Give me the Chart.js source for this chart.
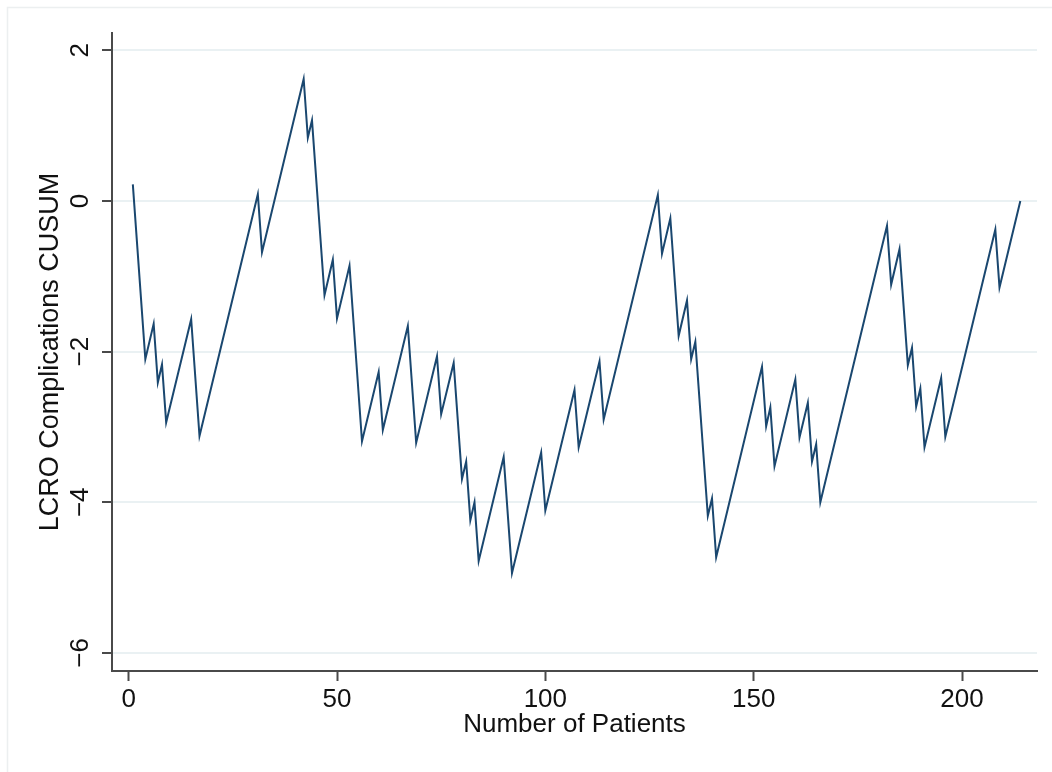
<!DOCTYPE html>
<html>
<head>
<meta charset="utf-8">
<script src="https://cdn.jsdelivr.net/npm/chart.js@4.4.1/dist/chart.umd.min.js"></script>
<style>
  body { margin: 0; background: #fff; }
  canvas { display: block; }
</style>
</head>
<body>
<canvas id="cusumChart" width="1052" height="772"></canvas>
<script>
// turning points of the CUSUM curve (patient number, cusum value)
const patients = [1, 4, 6, 7, 8, 9, 15, 17, 31, 32, 42, 43, 44, 47, 49, 50,
  53, 56, 60, 61, 67, 69, 74, 75, 78, 80, 81, 82, 83, 84, 90, 92,
  99, 100, 107, 108, 113, 114, 127, 128, 130, 132, 134, 135, 136, 139, 140, 141,
  152, 153, 154, 155, 160, 161, 163, 164, 165, 166, 182, 183, 185, 187, 188, 189,
  190, 191, 195, 196, 208, 209, 214];
const cusum = [0.22, -2.10, -1.63, -2.41, -2.17, -2.94, -1.57, -3.12, 0.09, -0.68, 1.62, 0.84, 1.07, -1.25, -0.78, -1.56,
  -0.86, -3.19, -2.27, -3.04, -1.66, -3.21, -2.06, -2.83, -2.15, -3.69, -3.46, -4.24, -4.00, -4.78, -3.40, -4.94,
  -3.34, -4.11, -2.51, -3.27, -2.13, -2.90, 0.08, -0.70, -0.23, -1.79, -1.32, -2.10, -1.87, -4.18, -3.95, -4.73,
  -2.20, -2.99, -2.74, -3.52, -2.37, -3.14, -2.68, -3.46, -3.23, -4.00, -0.33, -1.11, -0.64, -2.18, -1.95, -2.73,
  -2.49, -3.27, -2.35, -3.13, -0.38, -1.15, 0.00];

const xTicks = [0, 50, 100, 150, 200];
const yTicks = [-6, -4, -2, 0, 2];

const FONT = "'Liberation Sans', Arial, Helvetica, sans-serif";
const axisColor = "#4a4a4a";
const gridColor = "#eaf1f3";

const points = patients.map((p, i) => ({ x: p, y: cusum[i] }));

const framePlugin = {
  id: "frame",
  beforeDraw(chart) {
    const c = chart.ctx;
    c.save();
    c.fillStyle = "#fff";
    c.fillRect(0, 0, chart.width, chart.height);
    c.strokeStyle = "#eceff0";
    c.lineWidth = 1.5;
    c.strokeRect(7.5, 7.5, chart.width + 20, chart.height + 20);
    c.restore();
  }
};

new Chart(document.getElementById("cusumChart"), {
  type: "line",
  data: {
    datasets: [{
      label: "LCRO Complications CUSUM",
      data: points,
      borderColor: "#1a476f",
      backgroundColor: "#1a476f",
      borderWidth: 2,
      pointRadius: 0,
      tension: 0,
      fill: false
    }]
  },
  options: {
    responsive: false,
    animation: false,
    layout: { padding: { left: 0, top: 33, right: 15, bottom: 0 } },
    plugins: {
      legend: { display: false },
      tooltip: { enabled: false }
    },
    scales: {
      x: {
        type: "linear",
        min: -4,
        max: 218,
        afterBuildTicks: (scale) => { scale.ticks = xTicks.map(v => ({ value: v })); },
        afterFit: (scale) => { scale.height = 101; },
        grid: {
          drawOnChartArea: false,
          drawTicks: true,
          tickLength: 10,
          tickWidth: 2,
          tickColor: axisColor
        },
        border: { display: true, color: axisColor, width: 2 },
        ticks: {
          color: "#111",
          padding: 3,
          maxRotation: 0,
          font: { family: FONT, size: 26 }
        },
        title: {
          display: true,
          text: "Number of Patients",
          color: "#111",
          padding: 32,
          font: { family: FONT, size: 26 }
        }
      },
      y: {
        type: "linear",
        min: -6.24,
        max: 2.23,
        afterBuildTicks: (scale) => { scale.ticks = yTicks.map(v => ({ value: v })); },
        afterFit: (scale) => { scale.width = 112; },
        grid: {
          color: gridColor,
          lineWidth: 2,
          drawTicks: true,
          tickLength: 10,
          tickWidth: 2,
          tickColor: axisColor
        },
        border: { display: true, color: axisColor, width: 2 },
        ticks: {
          color: "#111",
          padding: 6,
          minRotation: 90,
          maxRotation: 90,
          crossAlign: "center",
          font: { family: FONT, size: 26 },
          callback: (v) => String(v).replace("-", "\u2212")
        },
        title: {
          display: true,
          text: "LCRO Complications CUSUM",
          color: "#111",
          padding: 34,
          font: { family: FONT, size: 27 }
        }
      }
    }
  },
  plugins: [framePlugin]
});
</script>
</body>
</html>
